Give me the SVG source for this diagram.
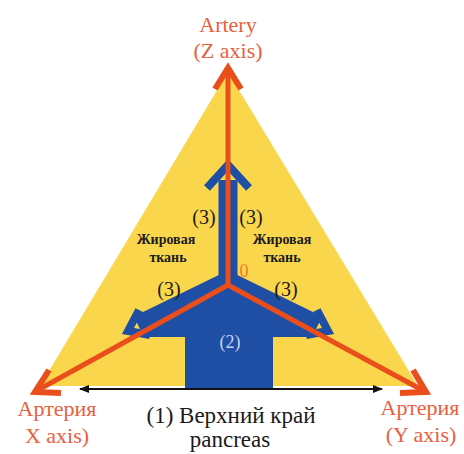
<svg xmlns="http://www.w3.org/2000/svg" width="464" height="454" viewBox="0 0 464 454">
<defs>
<style>
.red{stroke:#e94e1b;fill:none;stroke-width:5}
.redhead{stroke:#e94e1b;fill:none;stroke-width:6;stroke-linejoin:miter;stroke-linecap:butt}
.blue{stroke:#1f4ea5;fill:none;stroke-width:19}
.bluehead{stroke:#1f4ea5;fill:none;stroke-width:8;stroke-linejoin:miter}
text{font-family:'Liberation Serif','Times New Roman',serif}
.lbl{fill:#e8603f;font-size:22px;text-anchor:middle}
.blk{fill:#1a1a1a;text-anchor:middle}
</style>
<marker id="ah" viewBox="0 0 10 10" refX="9" refY="5" markerWidth="5" markerHeight="5" orient="auto-start-reverse" markerUnits="strokeWidth">
<path d="M0,1 L10,5 L0,9 z" fill="#111"/>
</marker>
</defs>
<rect width="464" height="454" fill="#ffffff"/>
<g id="fat-triangle">
<polygon points="228,72 40,386 418,386" fill="#fad64c"/>
</g>
<g id="blue-arrow">
<rect x="185" y="330" width="88" height="58" fill="#1f4ea5"/>
<polygon points="228,280 132,337 324,337" fill="#1f4ea5"/>
<line class="blue" x1="228" y1="284" x2="228" y2="180"/>
<line class="blue" x1="228" y1="281" x2="138" y2="325"/>
<line class="blue" x1="228" y1="281" x2="318" y2="325"/>
<polyline class="bluehead" points="207,188 228,165 249,188"/>
<polyline class="bluehead" points="139,310 128,331 150,335"/>
<polyline class="bluehead" points="317,310 328,331 306,335"/>
</g>
<g id="connectors">
<line class="red" x1="228" y1="285" x2="228" y2="70"/>
<polyline class="redhead" points="215,89 228,68 241,89"/>
<line class="red" x1="228" y1="285" x2="38" y2="390"/>
<polyline class="redhead" points="49,370 35,392 61,393"/>
<line class="red" x1="228" y1="285" x2="424" y2="391"/>
<polyline class="redhead" points="413,370 426,392 400,393"/>
<line x1="80" y1="389" x2="382" y2="389" stroke="#111" stroke-width="2" marker-start="url(#ah)" marker-end="url(#ah)"/>
</g>
<g id="z-label">
<text class="lbl" x="228" y="32" font-size="23">Artery</text>
<text class="lbl" x="228" y="58">(Z axis)</text>
</g>
<g id="x-label">
<text class="lbl" x="57" y="416">Артерия</text>
<text class="lbl" x="57" y="443">X axis)</text>
</g>
<g id="y-label">
<text class="lbl" x="420" y="415">Артерия</text>
<text class="lbl" x="421" y="442">(Y axis)</text>
</g>
<g id="pancreas-label">
<text class="blk" x="231" y="423" font-size="23">(1) Верхний край</text>
<text class="blk" x="230" y="447" font-size="23">pancreas</text>
</g>
<g id="fat-left">
<text class="blk" x="204" y="224" font-size="20">(3)</text>
<text class="blk" x="166" y="244" font-size="14" font-weight="bold">Жировая</text>
<text class="blk" x="168" y="262" font-size="14" font-weight="bold">ткань</text>
<text class="blk" x="169" y="296" font-size="20">(3)</text>
</g>
<g id="fat-right">
<text class="blk" x="251" y="224" font-size="20">(3)</text>
<text class="blk" x="282" y="244" font-size="14" font-weight="bold">Жировая</text>
<text class="blk" x="282" y="262" font-size="14" font-weight="bold">ткань</text>
<text class="blk" x="286" y="296" font-size="20">(3)</text>
</g>
<g id="origin">
<text x="244" y="277" font-size="18" fill="#f07a30" text-anchor="middle">0</text>
</g>
<g id="stem-label">
<text x="230" y="348" font-size="18" fill="#c9cff0" text-anchor="middle">(2)</text>
</g>
</svg>
